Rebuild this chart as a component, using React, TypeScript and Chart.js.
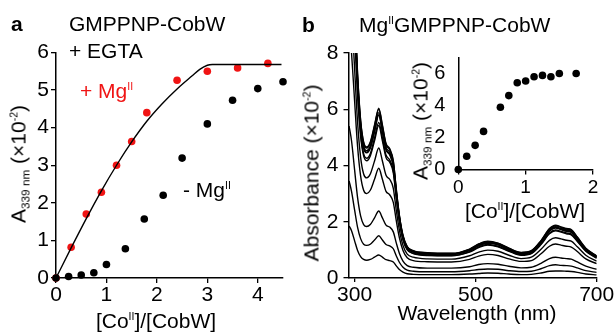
import React, { useEffect, useRef } from 'react';
import { Chart, registerables } from 'chart.js';
Chart.register(...registerables);

const FONT = "'Liberation Sans', Arial, Helvetica, sans-serif";

// ---------- Panel a data ----------
const plusMgX = [0, 0.3, 0.6, 0.9, 1.2, 1.5, 1.8, 2.4, 3.0, 3.6, 4.2];
const plusMgY = [0, 0.82, 1.7, 2.28, 3.0, 3.63, 4.4, 5.26, 5.5, 5.59, 5.71];
const minusMgX = [0, 0.25, 0.5, 0.75, 1.0, 1.375, 1.75, 2.125, 2.5, 3.0, 3.5, 4.0, 4.5];
const minusMgY = [0, 0.04, 0.08, 0.14, 0.36, 0.78, 1.57, 2.2, 3.19, 4.1, 4.73, 5.04, 5.22];
const fitX = [0, 0.3, 0.6, 0.9, 1.2, 1.5, 1.8, 2.1, 2.4, 2.7, 2.85, 3.0, 3.1, 4.47];
const fitY = [0, 0.8, 1.58, 2.32, 3.0, 3.62, 4.17, 4.63, 5.03, 5.38, 5.55, 5.66, 5.68, 5.68];
const aTicksX = [0, 1, 2, 3, 4];
const aTicksY = [0, 1, 2, 3, 4, 5, 6];

// ---------- Panel b data ----------
const wavelengths = [291, 295, 300, 305, 310, 315, 320, 326, 333, 340, 346, 352, 358, 364, 369, 374, 380, 387, 397, 420, 460, 490, 505, 520, 537, 555, 575, 592, 608, 622, 632, 641, 650, 658, 668, 682, 700];
const spec1 = [1.85, 1.68, 1.33, 0.98, 0.76, 0.66, 0.63, 0.66, 0.74, 0.82, 0.74, 0.65, 0.62, 0.57, 0.43, 0.30, 0.21, 0.15, 0.13, 0.12, 0.12, 0.14, 0.16, 0.18, 0.17, 0.14, 0.12, 0.13, 0.18, 0.24, 0.25, 0.25, 0.24, 0.23, 0.20, 0.14, 0.11];
const spec2 = [3.45, 3.08, 2.43, 1.8, 1.4, 1.2, 1.16, 1.2, 1.35, 1.5, 1.35, 1.19, 1.14, 1.04, 0.78, 0.56, 0.38, 0.28, 0.24, 0.22, 0.22, 0.26, 0.3, 0.32, 0.31, 0.26, 0.23, 0.24, 0.33, 0.44, 0.47, 0.45, 0.44, 0.42, 0.36, 0.26, 0.2];
const spec3 = [5.4, 4.88, 3.86, 2.86, 2.21, 1.9, 1.83, 1.9, 2.14, 2.38, 2.14, 1.88, 1.81, 1.64, 1.24, 0.88, 0.6, 0.44, 0.38, 0.35, 0.35, 0.4, 0.48, 0.51, 0.49, 0.42, 0.36, 0.38, 0.52, 0.69, 0.74, 0.71, 0.69, 0.67, 0.57, 0.42, 0.31];
const spec4 = [8.97, 8.0, 6.32, 4.68, 3.63, 3.12, 3.0, 3.12, 3.51, 3.9, 3.51, 3.08, 2.96, 2.69, 2.03, 1.44, 0.98, 0.72, 0.62, 0.58, 0.57, 0.66, 0.78, 0.84, 0.8, 0.68, 0.59, 0.62, 0.86, 1.13, 1.21, 1.17, 1.13, 1.1, 0.94, 0.68, 0.51];
const spec5 = [10.6, 9.47, 7.48, 5.54, 4.3, 3.7, 3.56, 3.7, 4.16, 4.62, 4.16, 3.65, 3.51, 3.19, 2.4, 1.71, 1.16, 0.85, 0.74, 0.68, 0.67, 0.79, 0.92, 0.99, 0.95, 0.81, 0.69, 0.74, 1.02, 1.34, 1.43, 1.39, 1.34, 1.31, 1.11, 0.81, 0.6];
const spec6 = [12.5, 11.1, 8.78, 6.5, 5.04, 4.34, 4.17, 4.34, 4.88, 5.42, 4.88, 4.28, 4.12, 3.74, 2.82, 2.01, 1.36, 1.0, 0.87, 0.8, 0.79, 0.92, 1.08, 1.17, 1.11, 0.95, 0.81, 0.87, 1.19, 1.57, 1.68, 1.63, 1.57, 1.53, 1.3, 0.95, 0.7];
const spec7 = [12.7, 11.3, 8.96, 6.64, 5.14, 4.42, 4.26, 4.42, 4.98, 5.53, 4.98, 4.37, 4.2, 3.82, 2.88, 2.05, 1.38, 1.02, 0.88, 0.82, 0.8, 0.94, 1.11, 1.19, 1.13, 0.97, 0.83, 0.88, 1.22, 1.6, 1.71, 1.66, 1.6, 1.56, 1.33, 0.97, 0.72];
const spec8 = [13.3, 11.9, 9.4, 6.96, 5.39, 4.64, 4.47, 4.64, 5.22, 5.8, 5.22, 4.58, 4.41, 4.0, 3.02, 2.15, 1.45, 1.07, 0.93, 0.86, 0.84, 0.99, 1.16, 1.25, 1.19, 1.02, 0.87, 0.93, 1.28, 1.68, 1.8, 1.74, 1.68, 1.64, 1.39, 1.02, 0.75];
const spec9 = [13.5, 12.1, 9.53, 7.06, 5.47, 4.7, 4.53, 4.7, 5.29, 5.88, 5.29, 4.65, 4.47, 4.06, 3.06, 2.18, 1.47, 1.09, 0.94, 0.87, 0.85, 1.0, 1.18, 1.26, 1.21, 1.03, 0.88, 0.94, 1.29, 1.71, 1.82, 1.76, 1.71, 1.66, 1.41, 1.03, 0.76];
const spec10 = [13.3, 11.9, 9.38, 6.94, 5.37, 4.62, 4.45, 4.62, 5.2, 5.8, 5.2, 4.56, 4.38, 3.98, 3.0, 2.14, 1.44, 1.06, 0.92, 0.85, 0.83, 0.97, 1.14, 1.23, 1.18, 1.0, 0.86, 0.92, 1.26, 1.66, 1.78, 1.72, 1.66, 1.62, 1.37, 1.0, 0.74];
const spec11 = [13.8, 12.3, 9.72, 7.2, 5.58, 4.8, 4.62, 4.8, 5.4, 6.0, 5.4, 4.74, 4.56, 4.14, 3.12, 2.22, 1.5, 1.11, 0.96, 0.89, 0.87, 1.02, 1.2, 1.29, 1.23, 1.05, 0.9, 0.96, 1.32, 1.74, 1.86, 1.8, 1.74, 1.7, 1.44, 1.05, 0.78];
const spec12 = [13.9, 12.4, 9.8, 7.26, 5.62, 4.84, 4.66, 4.84, 5.44, 6.04, 5.44, 4.78, 4.6, 4.17, 3.15, 2.24, 1.52, 1.12, 0.97, 0.9, 0.88, 1.03, 1.21, 1.31, 1.24, 1.06, 0.91, 0.97, 1.33, 1.76, 1.88, 1.82, 1.76, 1.72, 1.46, 1.06, 0.79];
const spectra = [spec1, spec2, spec3, spec4, spec5, spec6, spec7, spec8, spec9, spec10, spec11, spec12];
const bTicksX = [300, 500, 700];
const bTicksY = [0, 2, 4, 6, 8];

// ---------- Inset data ----------
const insetX = [0, 0.125, 0.25, 0.375, 0.625, 0.75, 0.875, 1.0, 1.125, 1.25, 1.375, 1.5, 1.75];
const insetY = [0, 0.83, 1.51, 2.38, 3.89, 4.62, 5.42, 5.53, 5.8, 5.88, 5.8, 6.0, 6.0];
const insetTicksX = [0, 1, 2];
const insetTicksY = [0, 2, 4, 6];

const pts = (xs: number[], ys: number[]) => xs.map((x, i) => ({ x, y: ys[i] }));

const fixSize = (size: number) => (scale: any) => {
  if (scale.isHorizontal()) scale.height = size;
  else scale.width = size;
  scale.paddingLeft = 0;
  scale.paddingRight = 0;
  scale.paddingTop = 0;
  scale.paddingBottom = 0;
};
const setTicks = (vals: number[]) => (scale: any) => {
  scale.ticks = vals.map((v) => ({ value: v }));
};

function axis(opts: any) {
  const { min, max, ticks, size, fontSize, tickLength, padding, drawTicks = true } = opts;
  return {
    type: 'linear',
    min,
    max,
    afterBuildTicks: setTicks(ticks),
    afterFit: fixSize(size),
    grid: { display: true, drawOnChartArea: false, drawTicks, tickLength, color: '#000', lineWidth: 1.3 },
    border: { display: true, color: '#000', width: 1.5 },
    ticks: { color: '#000', font: { family: FONT, size: fontSize }, padding, maxRotation: 0, autoSkip: false },
  };
}

const baseOptions = (padding: any) => ({
  responsive: false,
  animation: false,
  events: [],
  layout: { padding },
  plugins: { legend: { display: false }, tooltip: { enabled: false } },
});

function ChartBox({ left, top, width, height, config }: any) {
  const ref = useRef<HTMLCanvasElement>(null);
  useEffect(() => {
    const chart = new Chart(ref.current as HTMLCanvasElement, config);
    return () => chart.destroy();
  }, []);
  return (
    <canvas
      ref={ref}
      width={width}
      height={height}
      style={{ position: 'absolute', left, top, width, height }}
    />
  );
}

const supStyle: any = { fontSize: '0.5em', verticalAlign: '0.72em', lineHeight: 0 };
const subStyle: any = { fontSize: '0.56em', verticalAlign: '-0.32em', lineHeight: 0 };

function T({ x, y, size = 21, color = '#000', bold = false, rotate = false, anchor = 'left', children }: any) {
  const transform = rotate
    ? 'translate(-50%,-50%) rotate(-90deg)'
    : anchor === 'center'
    ? 'translate(-50%,-50%)'
    : 'translate(0,-50%)';
  return (
    <div
      style={{
        position: 'absolute',
        left: x,
        top: y,
        transform,
        fontFamily: FONT,
        fontSize: size,
        lineHeight: `${size}px`,
        color,
        fontWeight: bold ? 'bold' : 'normal',
        whiteSpace: 'nowrap',
      }}
    >
      {children}
    </div>
  );
}

export default function App() {
  const cfgA: any = {
    type: 'scatter',
    data: {
      datasets: [
        { data: pts(fitX, fitY), showLine: true, borderColor: '#000', borderWidth: 1.4, pointRadius: 0, cubicInterpolationMode: 'monotone', clip: false },
        { data: pts(minusMgX, minusMgY), pointRadius: 3.8, backgroundColor: '#000', borderWidth: 0, clip: false },
        { data: pts(plusMgX, plusMgY), pointRadius: 3.8, backgroundColor: '#f01414', borderWidth: 0, clip: false },
      ],
    },
    options: {
      ...baseOptions({ left: 0, right: 17, top: 52.5, bottom: 0 }),
      scales: {
        x: axis({ min: 0, max: 4.5, ticks: aTicksX, size: 54, fontSize: 21, tickLength: 5, padding: 0 }),
        y: axis({ min: 0, max: 6, ticks: aTicksY, size: 56, fontSize: 21, tickLength: 5, padding: 2 }),
      },
    },
  };

  const cfgB: any = {
    type: 'scatter',
    data: {
      datasets: spectra.map((row) => ({
        data: pts(wavelengths, row),
        showLine: true,
        borderColor: '#000',
        borderWidth: 1.4,
        pointRadius: 0,
        cubicInterpolationMode: 'monotone',
      })),
    },
    options: {
      ...baseOptions({ left: 0, right: 17.3, top: 53, bottom: 0 }),
      scales: {
        x: axis({ min: 290, max: 700, ticks: bTicksX, size: 54, fontSize: 21, tickLength: 4, padding: 1 }),
        y: axis({ min: 0, max: 8, ticks: bTicksY, size: 48.5, fontSize: 21, tickLength: 5, padding: 5 }),
      },
    },
  };

  const cfgInset: any = {
    type: 'scatter',
    data: {
      datasets: [{ data: pts(insetX, insetY), pointRadius: 3.8, backgroundColor: '#000', borderWidth: 0, clip: false }],
    },
    options: {
      ...baseOptions({ left: 0, right: 21, top: 17.5, bottom: 0 }),
      scales: {
        x: axis({ min: 0, max: 2, ticks: insetTicksX, size: 70.5, fontSize: 19, tickLength: 5, padding: 2 }),
        y: axis({ min: 0, max: 7, ticks: insetTicksY, size: 58.3, fontSize: 20, tickLength: 0, padding: 13, drawTicks: false }),
      },
    },
  };

  return (
    <div style={{ position: 'absolute', left: 0, top: 0, width: 614, height: 332, overflow: 'hidden', background: '#fff' }}>
      <ChartBox left={0} top={0} width={300} height={332} config={cfgA} />
      <ChartBox left={300} top={0} width={314} height={332} config={cfgB} />
      <ChartBox left={400} top={40} width={214} height={200} config={cfgInset} />

      {/* Panel a text */}
      <T x={11} y={22.7} bold>a</T>
      <T x={69} y={22.7}>GMPPNP-CobW</T>
      <T x={69} y={49.7}>+ EGTA</T>
      <T x={80} y={89.7} color="#f01414">+ Mg<span style={supStyle}>II</span></T>
      <T x={183} y={188.7}>- Mg<span style={supStyle}>II</span></T>
      <T x={156} y={319.7} anchor="center">[Co<span style={supStyle}>II</span>]/[CobW]</T>
      <T x={17.5} y={164} rotate>
        A<span style={subStyle}>339 nm</span> (×10<span style={supStyle}>-2</span>)
      </T>

      {/* Panel b text */}
      <T x={302} y={24.2} bold>b</T>
      <T x={359} y={24.2}>Mg<span style={supStyle}>II</span>GMPPNP-CobW</T>
      <T x={477} y={312.2} anchor="center">Wavelength (nm)</T>
      <T x={310.5} y={172.5} rotate>Absorbance (×10<span style={supStyle}>-2</span>)</T>

      {/* Inset text */}
      <T x={525} y={209.7} anchor="center">[Co<span style={supStyle}>II</span>]/[CobW]</T>
      <T x={419.5} y={121} rotate>
        A<span style={subStyle}>339 nm</span> (×10<span style={supStyle}>-2</span>)
      </T>
    </div>
  );
}
